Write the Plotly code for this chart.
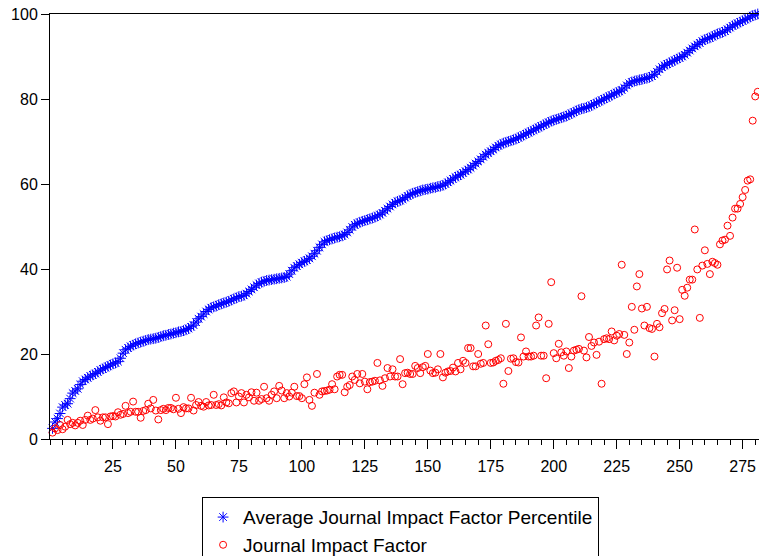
import plotly.graph_objects as go

percentile = [
    2.5,4.0,4.8,6.0,7.5,8.0,8.3,9.5,10.8,11.3,
    11.8,12.8,13.6,14.0,14.4,14.8,15.1,15.4,15.8,16.2,
    16.5,16.8,17.1,17.4,17.7,17.9,18.2,19.0,20.2,21.0,
    21.4,21.8,22.1,22.4,22.6,22.8,23.0,23.2,23.4,23.5,
    23.6,23.7,23.9,24.1,24.3,24.4,24.6,24.7,24.9,25.0,
    25.2,25.3,25.5,25.7,26.0,26.4,26.8,27.5,28.3,28.8,
    29.4,30.0,30.5,30.9,31.1,31.3,31.6,31.8,32.0,32.2,
    32.4,32.7,33.0,33.2,33.5,33.6,33.8,34.2,34.7,35.2,
    35.7,36.2,36.6,36.9,37.1,37.3,37.4,37.5,37.6,37.7,
    37.8,37.9,38.0,38.2,38.8,39.6,40.3,40.7,41.1,41.5,
    41.8,42.1,42.5,43.0,43.6,44.3,45.1,45.8,46.4,46.7,
    46.9,47.1,47.3,47.5,47.6,47.8,48.1,48.6,49.2,49.9,
    50.4,50.7,51.0,51.2,51.4,51.6,51.8,52.0,52.2,52.5,
    52.8,53.2,53.7,54.2,54.7,55.2,55.6,55.9,56.1,56.4,
    56.8,57.2,57.5,57.8,58.0,58.2,58.4,58.6,58.7,58.8,
    59.0,59.1,59.2,59.4,59.5,59.7,60.0,60.4,60.8,61.2,
    61.6,61.9,62.2,62.6,63.0,63.4,63.8,64.3,64.8,65.3,
    65.8,66.4,66.9,67.3,67.7,68.1,68.6,69.0,69.3,69.6,
    69.8,70.0,70.2,70.4,70.6,70.9,71.2,71.5,71.8,72.1,
    72.4,72.7,73.0,73.3,73.6,73.9,74.2,74.5,74.8,75.0,
    75.2,75.4,75.6,75.8,76.0,76.3,76.6,76.9,77.2,77.5,
    77.7,77.8,78.0,78.2,78.5,78.8,79.1,79.4,79.7,80.0,
    80.3,80.6,80.9,81.2,81.5,81.8,82.1,82.6,83.2,83.7,
    84.0,84.2,84.3,84.5,84.6,84.8,84.9,85.1,85.4,85.8,
    86.4,87.0,87.5,87.9,88.2,88.5,88.8,89.1,89.4,89.7,
    90.0,90.4,90.9,91.4,91.9,92.4,92.8,93.2,93.6,94.0,
    94.2,94.4,94.7,95.0,95.3,95.5,95.7,96.0,96.4,96.8,
    97.2,97.5,97.8,98.1,98.4,98.7,99.0,99.3,99.6,99.8,100.0,
]

jif = [
    1.5,2.5,2.1,3.3,2.3,2.9,4.5,3.5,3.8,3.2,
    3.8,4.3,3.3,4.5,5.5,4.5,4.8,6.8,5.1,4.3,
    5.1,5.1,3.5,5.3,5.4,5.3,6.3,5.7,5.9,7.8,
    6.1,6.4,8.8,6.4,6.4,5.0,6.6,6.8,8.3,7.2,
    9.2,6.7,4.6,6.8,7.1,6.8,7.3,7.3,7.0,9.7,
    7.1,6.1,7.5,7.2,7.2,9.7,6.7,8.0,8.7,7.8,
    7.6,8.7,7.9,8.0,10.4,8.0,8.2,7.9,9.8,8.6,
    8.4,10.8,11.2,8.6,10.0,10.8,8.6,10.4,9.8,11.0,
    9.0,10.9,9.0,9.4,12.3,9.6,9.0,10.4,11.2,9.6,
    12.5,11.4,9.6,10.8,10.0,10.9,12.3,10.1,10.1,9.6,
    12.9,14.5,9.2,7.8,10.9,15.3,10.4,11.2,11.3,11.4,
    11.6,12.9,11.7,14.7,15.1,15.1,11.0,12.3,12.7,14.7,
    13.9,15.3,13.1,15.3,13.5,11.7,13.4,13.5,13.7,17.9,
    13.8,12.5,14.3,16.7,14.7,16.4,14.7,14.7,18.8,12.9,
    15.5,15.6,15.3,15.3,17.2,16.7,15.5,16.9,17.2,20.0,
    16.1,15.5,15.6,16.4,20.0,14.5,15.6,15.9,16.0,16.8,
    15.9,17.9,16.4,18.4,17.9,21.4,21.4,17.1,17.1,20.0,
    17.7,17.9,26.7,22.3,17.9,18.0,18.4,18.6,19.0,13.0,
    27.1,16.0,18.9,19.0,18.1,18.0,23.9,19.4,20.6,19.4,
    19.4,19.6,26.7,28.6,19.6,19.6,14.3,27.1,36.9,20.2,
    19.0,22.4,20.4,19.6,20.6,16.7,19.4,20.8,21.0,21.2,
    33.6,20.8,19.2,24.0,21.9,22.7,19.8,22.9,13.0,23.5,
    23.7,23.5,25.3,23.2,24.3,24.7,41.0,24.5,20.0,22.7,
    31.1,25.7,35.9,38.8,30.7,26.7,31.1,26.1,25.9,19.4,
    27.1,26.3,29.6,30.6,39.9,42.0,27.9,30.3,40.3,28.2,
    35.1,33.7,35.6,37.5,37.5,49.3,39.9,28.5,40.8,44.4,
    41.2,38.8,41.7,41.4,41.0,45.8,46.7,46.9,50.2,47.8,
    52.1,54.2,54.2,55.3,56.9,58.6,60.8,61.1,74.9,80.6,81.7,
]

obs = list(range(1, len(percentile) + 1))
x_ticks = [25, 50, 75, 100, 125, 150, 175, 200, 225, 250, 275]
y_ticks = [0, 20, 40, 60, 80, 100]

FONT = "Liberation Sans, Arial, sans-serif"

fig = go.Figure()
fig.add_trace(go.Scatter(
    x=obs, y=percentile, mode="markers",
    name="Average Journal Impact Factor Percentile",
    marker=dict(symbol="asterisk-open", size=9, color="#0000FF",
                line=dict(color="#0000FF", width=1)),
    cliponaxis=False,
))
fig.add_trace(go.Scatter(
    x=obs, y=jif, mode="markers",
    name="Journal Impact Factor",
    marker=dict(symbol="circle-open", size=7, color="#FF0000",
                line=dict(color="#FF0000", width=1)),
    cliponaxis=False,
))

fig.update_layout(
    width=759, height=556,
    margin=dict(l=50, r=0, t=14, b=117, pad=0, autoexpand=False),
    paper_bgcolor="white", plot_bgcolor="white",
    font=dict(family=FONT, size=16, color="black"),
    showlegend=True,
    legend=dict(
        x=0.2145, y=-0.137, xanchor="left", yanchor="top",
        bordercolor="black", borderwidth=1, bgcolor="white",
        font=dict(family=FONT, size=19, color="black"),
        tracegroupgap=0, itemsizing="trace",
    ),
    xaxis=dict(
        range=[0, 281.5], tickmode="array", tickvals=x_ticks,
        ticks="outside", ticklen=9, tickwidth=1, tickcolor="black",
        ticklabelstandoff=4, automargin=False,
        showline=True, linecolor="black", linewidth=1, mirror=True,
        showgrid=False, zeroline=False,
        minor=dict(dtick=5, tick0=0, ticks="outside", ticklen=5,
                   tickwidth=1, tickcolor="black", showgrid=False),
        tickfont=dict(family=FONT, size=16, color="black"),
    ),
    yaxis=dict(
        range=[0, 100], tickmode="array", tickvals=y_ticks,
        ticks="outside", ticklen=8, tickwidth=1, tickcolor="black",
        showline=True, linecolor="black", linewidth=1, automargin=False,
        showgrid=False, zeroline=False,
        tickfont=dict(family=FONT, size=16, color="black"),
    ),
)

fig.write_html("out.html")
